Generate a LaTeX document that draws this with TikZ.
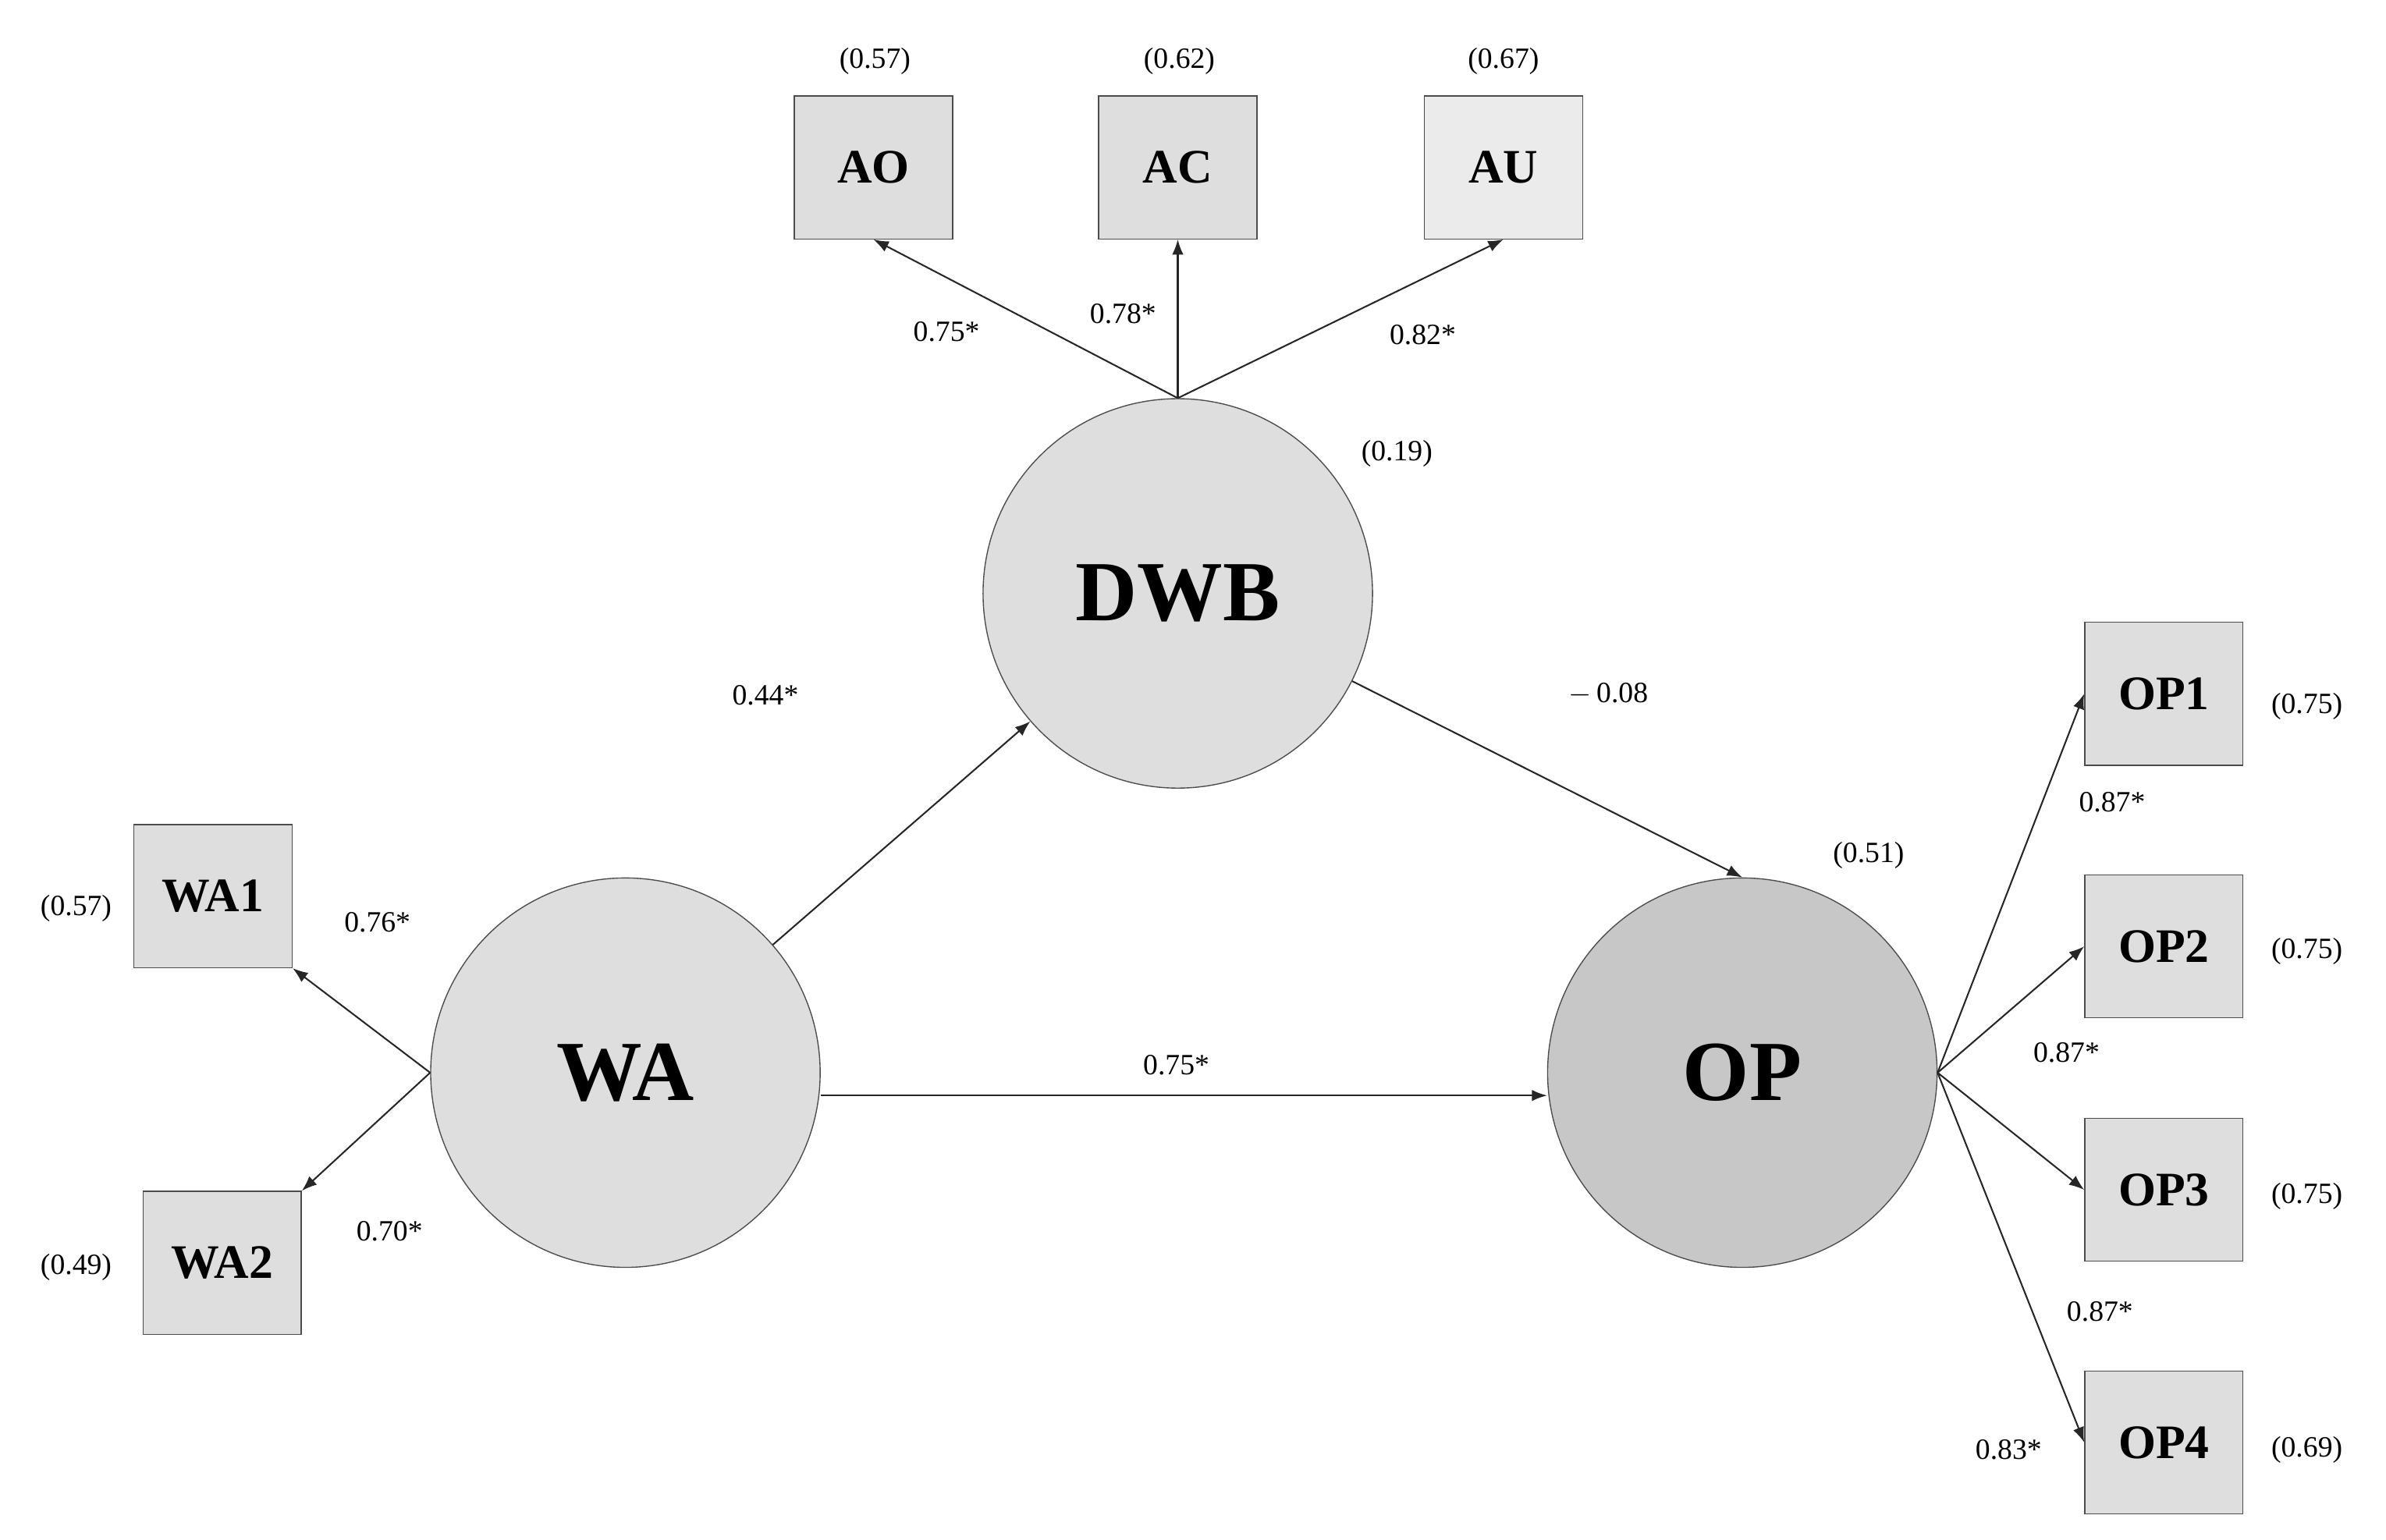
\documentclass[tikz,border=0pt]{standalone}
\usepackage{fontspec}
\setmainfont{Liberation Serif}
\usetikzlibrary{arrows.meta,positioning}

\begin{document}
\begin{tikzpicture}[x=0.02cm,y=-0.02cm,>=Latex,
    latent/.style={circle,draw=black!70,fill=black!13,minimum size=5.12cm,inner sep=0pt,font=\fontsize{32}{34}\selectfont\bfseries},
    obs/.style={rectangle,draw=black!70,fill=black!13,minimum width=2.08cm,minimum height=1.88cm,font=\fontsize{18}{20}\selectfont\bfseries},
    lab/.style={font=\fontsize{11}{13}\selectfont,inner sep=1pt},
    path/.style={->,black!85,line width=0.6pt}]
  \useasboundingbox (0,0) rectangle (1568,1012);
  \node[latent] (dwb) at (774,390) {DWB};
  \node[latent] (wa)  at (411,705) {WA};
  \node[latent,fill=black!22] (op) at (1145,705) {OP};

  \node[obs] (ao) at (574,110) {AO};
  \node[obs] (ac) at (774,110) {AC};
  \node[obs,fill=black!8] (au) at (988,110) {AU};
  \node[obs] (wa1) at (140,589) {WA1};
  \node[obs] (wa2) at (146,830) {WA2};
  \node[obs] (op1) at (1422,456) {OP1};
  \node[obs] (op2) at (1422,622) {OP2};
  \node[obs] (op3) at (1422,782) {OP3};
  \node[obs] (op4) at (1422,948) {OP4};

  % error variances / R2
  \node[lab] at (575,40)   {(0.57)};
  \node[lab] at (775,40)   {(0.62)};
  \node[lab] at (988,40)   {(0.67)};
  \node[lab] at (918,298)  {(0.19)};
  \node[lab] at (1228,562) {(0.51)};
  \node[lab] at (50,597)   {(0.57)};
  \node[lab] at (50,833)   {(0.49)};
  \node[lab] at (1516,464) {(0.75)};
  \node[lab] at (1516,625) {(0.75)};
  \node[lab] at (1516,786) {(0.75)};
  \node[lab] at (1516,953) {(0.69)};

  % structural paths
  \draw[path] (wa) -- (dwb);
  \draw[path] (dwb) -- (op.north);
  \draw[path] (wa.east |- 0,720) -- (op.west |- 0,720);
  \node[lab] at (503,457)  {0.44*};
  \node[lab] at (1057,456) {$-$\,0.08};
  \node[lab] at (773,700)  {0.75*};

  % loadings
  \draw[path] (dwb.north) -- (ao.south);
  \draw[path] (dwb.north) -- (ac.south);
  \draw[path] (dwb.north) -- (au.south);
  \node[lab] at (622,218) {0.75*};
  \node[lab] at (738,206) {0.78*};
  \node[lab] at (935,220) {0.82*};

  \draw[path] (wa.west) -- (wa1.south east);
  \draw[path] (wa.west) -- (wa2.north east);
  \node[lab] at (248,606) {0.76*};
  \node[lab] at (256,809) {0.70*};

  \draw[path] (op.east) -- (op1.west);
  \draw[path] (op.east) -- (op2.west);
  \draw[path] (op.east) -- (op3.west);
  \draw[path] (op.east) -- (op4.west);
  \node[lab] at (1388,527) {0.87*};
  \node[lab] at (1358,692) {0.87*};
  \node[lab] at (1380,862) {0.87*};
  \node[lab] at (1320,953) {0.83*};
\end{tikzpicture}
\end{document}
